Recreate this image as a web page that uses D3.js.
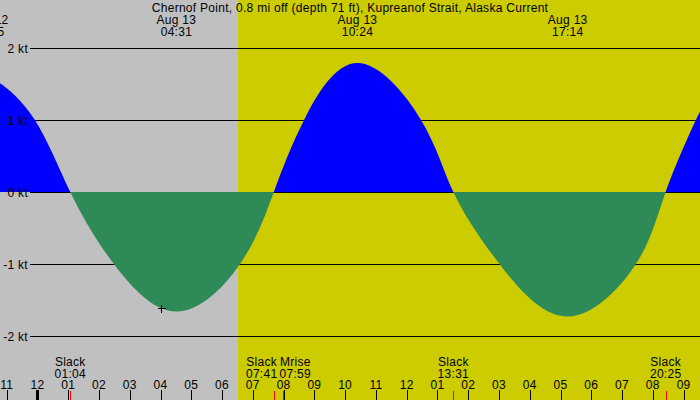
<!DOCTYPE html>
<html>
<head>
<meta charset="utf-8">
<script src="https://cdn.jsdelivr.net/npm/d3@7"></script>
<style>
  body { margin: 0; }
  svg { display: block; }
  text { font-family: "Liberation Sans", Arial, sans-serif; font-size: 12px; letter-spacing: 0.28px; fill: #000; }
</style>
</head>
<body>
<svg id="chart"></svg>
<script>
var width = 700, height = 400;

var title = "Chernof Point, 0.8 mi off (depth 71 ft), Kupreanof Strait, Alaska Current";

// current speed (kt, + flood / - ebb):
// slack, 1 kt crossings and maxima of each half cycle
var curveTimes  = ["Aug 12 22:25", "Aug 12 22:47", "Aug 12 23:55", "Aug 13 01:04", "Aug 13 02:29",
                   "Aug 13 04:31", "Aug 13 06:35", "Aug 13 07:41", "Aug 13 08:40", "Aug 13 10:24",
                   "Aug 13 12:28", "Aug 13 13:31", "Aug 13 15:01", "Aug 13 17:14", "Aug 13 19:27",
                   "Aug 13 20:25", "Aug 13 21:24", "Aug 13 21:32"];
var curveSpeeds = [1.55, 1.51, 1.0, 0, -1.0,
                   -1.66, -1.0, 0, 1.0, 1.79,
                   1.0, 0, -1.0, -1.73, -1.0,
                   0, 1.0, 1.08];

// max flood / ebb labels along the top
var maxTimes = ["Aug 12 22:25", "Aug 13 04:31", "Aug 13 10:24", "Aug 13 17:14"];

// slack and moon events along the bottom
var eventNames = ["Slack", "Slack", "Mrise", "Slack", "Slack"];
var eventTimes = ["Aug 13 01:04", "Aug 13 07:41", "Aug 13 07:59", "Aug 13 13:31", "Aug 13 20:25"];

var sunrise = "Aug 13 06:31";
var sunset  = "Aug 13 21:50";

var speedTicks = [2, 1, 0, -1, -2];

var nowTime = "Aug 13 04:01";
var nowSpeed = -1.615;

var startTime = "Aug 12 22:47";
var endTime   = "Aug 13 21:32";

var parse = d3.timeParse("%b %d %H:%M");

var x = d3.scaleTime()
  .domain([parse(startTime), parse(endTime)])
  .range([0, width]);

var y = d3.scaleLinear()
  .domain([0, 2])
  .range([192, 48]);

var svg = d3.select("#chart")
  .attr("width", width)
  .attr("height", height);

// night background, day band
svg.append("rect")
  .attr("width", width).attr("height", height)
  .attr("fill", "#c0c0c0");
svg.append("rect")
  .attr("x", Math.round(x(parse(sunrise))))
  .attr("width", Math.round(x(parse(sunset))) - Math.round(x(parse(sunrise))))
  .attr("height", height)
  .attr("fill", "#cccc00");

// grid lines sit under the fill
svg.selectAll(".grid")
  .data(speedTicks).enter()
  .append("line")
    .attr("class", "grid")
    .attr("x1", 30).attr("x2", width)
    .attr("y1", function(d) { return y(d) + 0.5; })
    .attr("y2", function(d) { return y(d) + 0.5; })
    .attr("stroke", "#000")
    .attr("shape-rendering", "crispEdges");

var points = curveTimes.map(function(t, i) { return [parse(t), curveSpeeds[i]]; });

var area = d3.area()
  .curve(d3.curveNatural)
  .x(function(d) { return x(d[0]); })
  .y0(y(0))
  .y1(function(d) { return y(d[1]); });

var defs = svg.append("defs");
defs.append("clipPath").attr("id", "clip-flood")
  .append("rect").attr("x", 0).attr("y", 0).attr("width", width).attr("height", y(0));
defs.append("clipPath").attr("id", "clip-ebb")
  .append("rect").attr("x", 0).attr("y", y(0)).attr("width", width).attr("height", height - y(0));

svg.append("path")
  .datum(points)
  .attr("d", area)
  .attr("fill", "#0000ff")
  .attr("clip-path", "url(#clip-flood)");

svg.append("path")
  .datum(points)
  .attr("d", area)
  .attr("fill", "#2e8b57")
  .attr("clip-path", "url(#clip-ebb)");

// speed labels
svg.selectAll(".ylabel")
  .data(speedTicks).enter()
  .append("text")
    .attr("class", "ylabel")
    .attr("x", 28)
    .attr("y", function(d) { return y(d) + 4.5; })
    .attr("text-anchor", "end")
    .text(function(d) { return d + " kt"; });

// now marker
var nx = Math.round(x(parse(nowTime))) + 0.5, ny = Math.round(y(nowSpeed)) + 0.5;
svg.append("path")
  .attr("d", "M" + (nx - 4) + "," + ny + "H" + (nx + 4) + "M" + nx + "," + (ny - 4) + "V" + (ny + 4))
  .attr("stroke", "#000")
  .attr("shape-rendering", "crispEdges");

// title and max current labels
svg.append("text")
  .attr("x", width / 2).attr("y", 12)
  .attr("text-anchor", "middle")
  .text(title);

var fmtDay = d3.timeFormat("%b %-d"), fmtHM = d3.timeFormat("%H:%M");
var tops = svg.selectAll(".max")
  .data(maxTimes).enter()
  .append("g")
    .attr("class", "max")
    .attr("transform", function(d) { return "translate(" + x(parse(d)) + ",0)"; });
tops.append("text").attr("y", 23.5).attr("text-anchor", "middle")
  .text(function(d) { return fmtDay(parse(d)); });
tops.append("text").attr("y", 35.5).attr("text-anchor", "middle")
  .text(function(d) { return fmtHM(parse(d)); });

// hour axis along the bottom
var hours = d3.timeHour.range(d3.timeHour.ceil(x.domain()[0]), x.domain()[1]);
svg.selectAll(".htick")
  .data(hours).enter()
  .append("line")
    .attr("class", "htick")
    .attr("x1", function(d) { return Math.round(x(d)) + 0.5; })
    .attr("x2", function(d) { return Math.round(x(d)) + 0.5; })
    .attr("y1", 390).attr("y2", height)
    .attr("stroke", "#000")
    .attr("stroke-width", function(d) { return d.getHours() === 0 ? 3 : 1; })
    .attr("shape-rendering", "crispEdges");
var fmtHour = d3.timeFormat("%I");
svg.selectAll(".hlabel")
  .data(hours).enter()
  .append("text")
    .attr("class", "hlabel")
    .attr("x", function(d) { return x(d); })
    .attr("y", 389)
    .attr("text-anchor", "middle")
    .text(function(d) { return fmtHour(d); });

// bottom events: red ticks and two-line labels, pushed apart when they collide
svg.selectAll(".etick")
  .data(eventTimes).enter()
  .append("line")
    .attr("class", "etick")
    .attr("x1", function(d) { return Math.round(x(parse(d))) + 0.5; })
    .attr("x2", function(d) { return Math.round(x(parse(d))) + 0.5; })
    .attr("y1", 391).attr("y2", height)
    .attr("stroke", "#ff0000")
    .attr("shape-rendering", "crispEdges");

var labels = svg.selectAll(".event")
  .data(eventTimes).enter()
  .append("g")
    .attr("class", "event");
labels.append("text").attr("y", 366).attr("text-anchor", "middle")
  .text(function(d, i) { return eventNames[i]; });
labels.append("text").attr("y", 378).attr("text-anchor", "middle")
  .text(function(d) { return fmtHM(parse(d)); });

var pos = eventTimes.map(function(d) { return x(parse(d)); });
var widths = [];
labels.each(function() { widths.push(this.getBBox().width); });
for (var i = 1; i < pos.length; i++) {
  var need = (widths[i - 1] + widths[i]) / 2 + 2;
  var gap = pos[i] - pos[i - 1];
  if (gap < need) {
    pos[i - 1] -= (need - gap) / 2;
    pos[i] += (need - gap) / 2;
  }
}
labels.attr("transform", function(d, i) { return "translate(" + pos[i] + ",0)"; });
</script>
</body>
</html>
